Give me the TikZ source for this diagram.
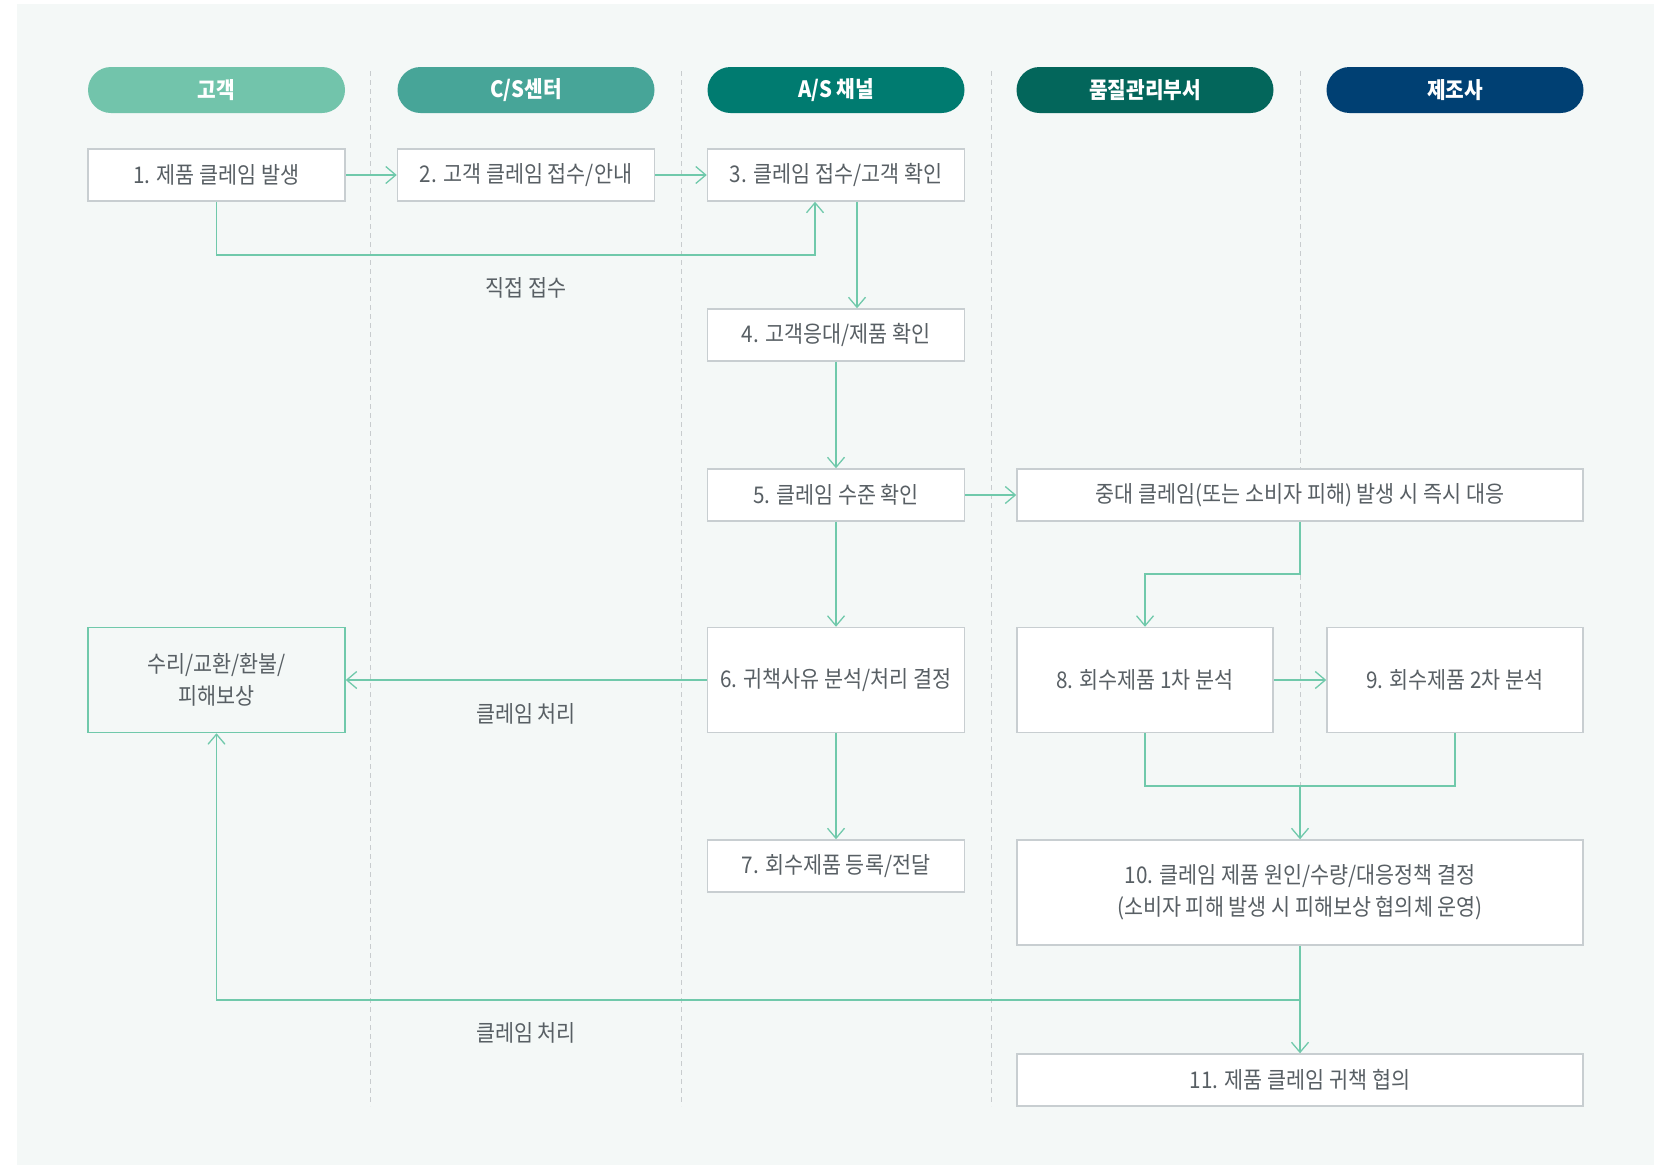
\documentclass[tikz,border=0pt]{standalone}
\usepackage{fontspec}
\setmainfont{Noto Sans CJK KR}[FakeStretch=0.9]
\usetikzlibrary{arrows.meta}
\definecolor{bgc}{RGB}{244,248,247}
\definecolor{linec}{RGB}{112,201,171}
\definecolor{txtc}{RGB}{88,95,100}
\definecolor{bordc}{RGB}{200,206,209}
\definecolor{laneC}{RGB}{200,204,206}
\definecolor{h1}{RGB}{114,196,171}
\definecolor{h2}{RGB}{71,165,152}
\definecolor{h3}{RGB}{0,123,112}
\definecolor{h4}{RGB}{3,102,91}
\definecolor{h5}{RGB}{0,64,115}
\tikzset{
  hdr/.style={rounded corners=23pt, minimum width=257pt, minimum height=46pt, inner sep=0pt,
    text=white, font=\fontsize{22.5}{26}\selectfont\bfseries},
  stepbox/.style={draw=bordc, line width=1.5pt, fill=white, minimum width=257pt, minimum height=52pt,
    inner sep=0pt, text=txtc, align=center, font=\fontsize{23}{32}\selectfont},
  lane/.style={draw=laneC, line width=1pt, dash pattern=on 5pt off 4pt},
  arr/.style={draw=linec, line width=1.5pt, -{Straight Barb[length=10pt,width=17pt,line width=1.3pt]}},
  ln/.style={draw=linec, line width=1.5pt},
  lbl/.style={text=txtc, font=\fontsize{23}{27}\selectfont, inner sep=0pt}
}
\begin{document}
\begin{tikzpicture}[x=1pt,y=-1pt]
\useasboundingbox (0,0) rectangle (1659,1165);
\fill[bgc] (17,4) rectangle (1654,1165);
% lanes
\foreach \lx in {370,681,991,1300} \draw[lane] (\lx,71) -- (\lx,1106);
% headers
\node[hdr, fill=h1] (p1) at (216.5,90) {고객};
\node[hdr, fill=h2] (p2) at (526,90) {C/S센터};
\node[hdr, fill=h3] (p3) at (836,90) {A/S 채널};
\node[hdr, fill=h4] (p4) at (1145,90) {품질관리부서};
\node[hdr, fill=h5] (p5) at (1455,90) {제조사};
% boxes
\node[stepbox] (b1) at (216.5,175) {1. 제품 클레임 발생};
\node[stepbox] (b2) at (526,175) {2. 고객 클레임 접수/안내};
\node[stepbox] (b3) at (836,175) {3. 클레임 접수/고객 확인};
\node[stepbox] (b4) at (836,335) {4. 고객응대/제품 확인};
\node[stepbox] (b5) at (836,495) {5. 클레임 수준 확인};
\node[stepbox, minimum width=566pt] (bm) at (1300,495) {중대 클레임(또는 소비자 피해) 발생 시 즉시 대응};
\node[stepbox, draw=linec, fill=none, minimum height=105pt] (br) at (216.5,680) {수리/교환/환불/\\피해보상};
\node[stepbox, minimum height=105pt] (b6) at (836,680) {6. 귀책사유 분석/처리 결정};
\node[stepbox, minimum height=105pt, minimum width=256pt] (b8) at (1145,680) {8. 회수제품 1차 분석};
\node[stepbox, minimum height=105pt, minimum width=256pt] (b9) at (1455,680) {9. 회수제품 2차 분석};
\node[stepbox] (b7) at (836,866) {7. 회수제품 등록/전달};
\node[stepbox, minimum width=566pt, minimum height=105pt] (b10) at (1300,892.5) {10. 클레임 제품 원인/수량/대응정책 결정\\(소비자 피해 발생 시 피해보상 협의체 운영)};
\node[stepbox, minimum width=566pt] (b11) at (1300,1080) {11. 제품 클레임 귀책 협의};
% labels
\node[lbl] (l1) at (526,288) {직접 접수};
\node[lbl] (l2) at (526,714) {클레임 처리};
\node[lbl] (l3) at (526,1033) {클레임 처리};
% junctions
\coordinate (j1) at (815,255);
\coordinate (j2) at (1300,574);
\coordinate (j3) at (1300,786);
\coordinate (j4) at (1300,1000);
% connectors
\draw[arr] (b1.east) -- (b2.west);
\draw[arr] (b2.east) -- (b3.west);
\draw[arr] (b1.south) |- (j1) -- (j1 |- b3.south);
\draw[arr] ([xshift=21pt]b3.south) -- ([xshift=21pt]b4.north);
\draw[arr] (b4.south) -- (b5.north);
\draw[arr] (b5.east) -- (bm.west);
\draw[arr] (b5.south) -- (b6.north);
\draw[arr] (b6.west) -- (br.east);
\draw[arr] (b6.south) -- (b7.north);
\draw[arr] (bm.south) -- (j2) -| (b8.north);
\draw[arr] (b8.east) -- (b9.west);
\draw[ln] (b8.south) |- (j3);
\draw[ln] (b9.south) |- (j3);
\draw[arr] (j3) -- (b10.north);
\draw[arr] (b10.south) -- (b11.north);
\draw[arr] (j4) -| (br.south);
\end{tikzpicture}
\end{document}
